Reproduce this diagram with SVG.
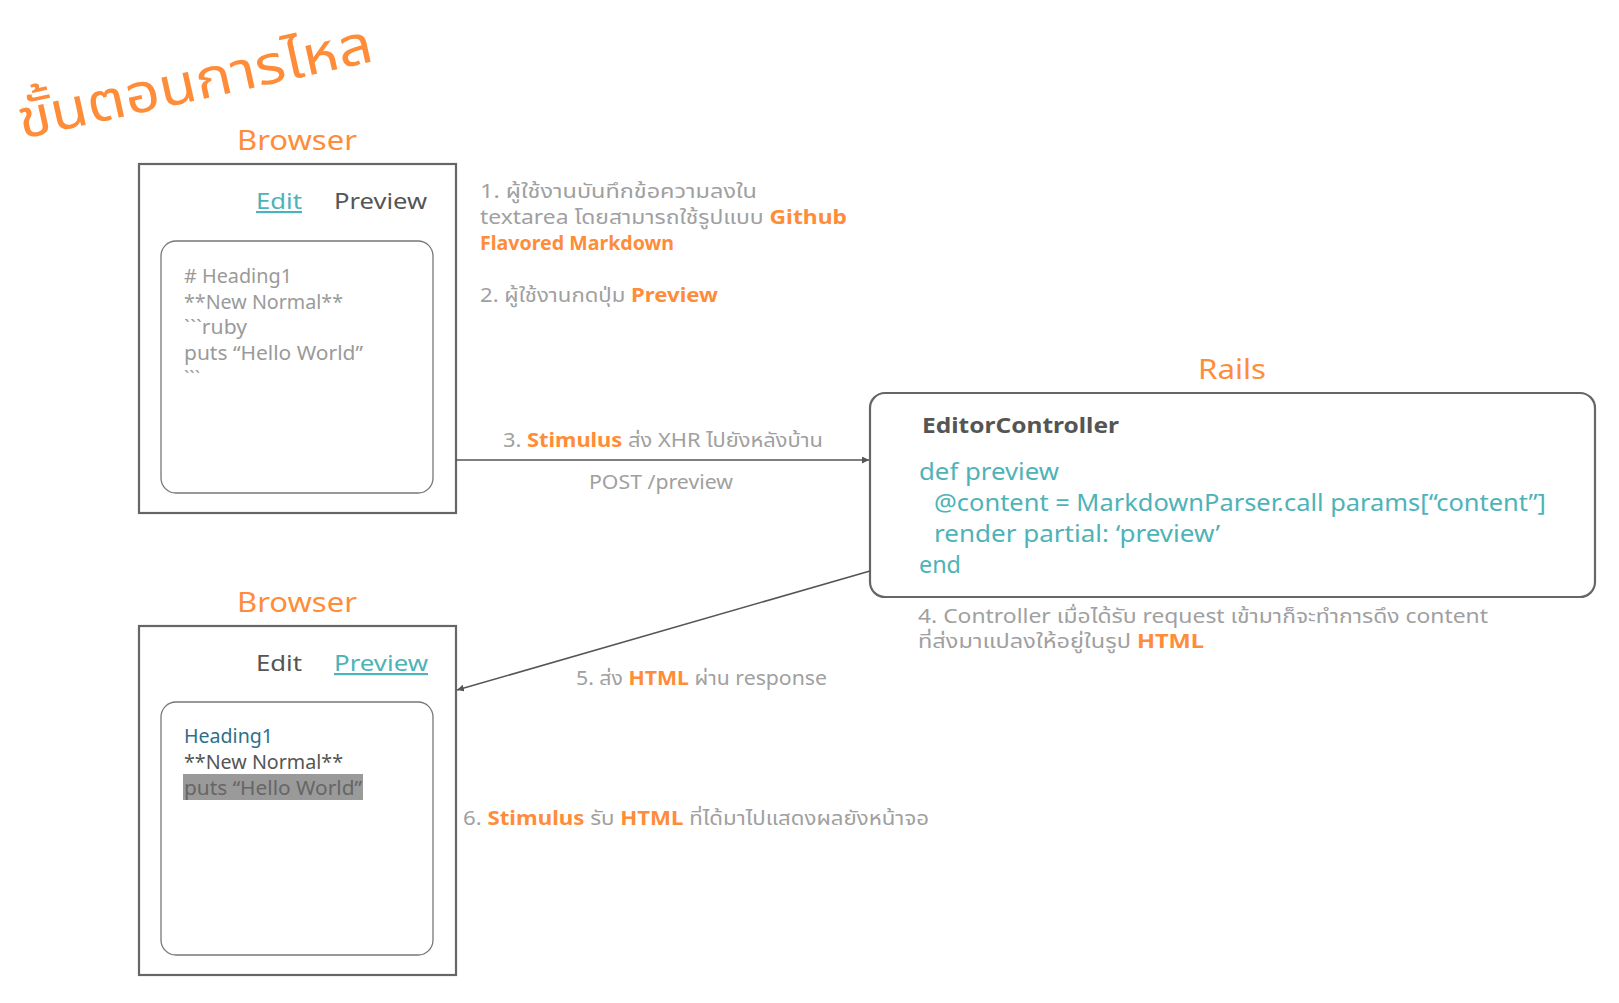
<svg xmlns="http://www.w3.org/2000/svg" width="1619" height="1003" viewBox="0 0 1619 1003">
<style>
text { font-family: "Noto Sans", "Noto Sans Thai", "Loma", "Garuda", "DejaVu Sans", sans-serif; }
.or { fill: #FF8C38; }
.orb { fill: #FF8C38; font-weight: bold; }
.gray { fill: #A0A0A0; font-size: 19px; }
.code { fill: #4DB3B8; font-size: 24px; }
.inner { fill: #9A9A9A; font-size: 19px; }
.dark { fill: #555555; }
.outer { fill: #ffffff; stroke: #666666; stroke-width: 2.2; }
.inbox { fill: #ffffff; stroke: #777777; stroke-width: 1.3; }
.conn { fill: none; stroke: #555555; stroke-width: 1.6; }
</style>
<defs>
<marker id="arr" viewBox="0 0 10 10" refX="10" refY="5" markerWidth="7" markerHeight="7" orient="auto" markerUnits="userSpaceOnUse">
<path d="M0,0 L10,5 L0,10 z" fill="#555555"/>
</marker>
</defs>
<rect width="1619" height="1003" fill="#ffffff"/>

<g id="title">
<text x="22" y="139" transform="rotate(-12.5 22 139)" class="or" font-size="54" textLength="362" lengthAdjust="spacingAndGlyphs">ขั้นตอนการไหล</text>
</g>

<g id="browser-edit">
<text x="297" y="150" class="or" font-size="28" text-anchor="middle" textLength="120" lengthAdjust="spacingAndGlyphs">Browser</text>
<rect x="139" y="164" width="317" height="349" class="outer"/>
<text x="256" y="209" font-size="22" fill="#4DB3B8" text-decoration="underline" textLength="46" lengthAdjust="spacingAndGlyphs">Edit</text>
<text x="334" y="209" font-size="22" class="dark" textLength="93" lengthAdjust="spacingAndGlyphs">Preview</text>
<rect x="161" y="241" width="272" height="252" rx="15" class="inbox"/>
<text x="184" y="283" class="inner" textLength="108" lengthAdjust="spacingAndGlyphs"># Heading1</text>
<text x="184" y="309" class="inner" textLength="159" lengthAdjust="spacingAndGlyphs">**New Normal**</text>
<text x="184" y="334" class="inner" textLength="63" lengthAdjust="spacingAndGlyphs">```ruby</text>
<text x="184" y="360" class="inner" textLength="179" lengthAdjust="spacingAndGlyphs">puts “Hello World”</text>
<text x="184" y="385" class="inner">```</text>
</g>

<g id="steps-1-2">
<text x="480" y="198" class="gray" textLength="277" lengthAdjust="spacingAndGlyphs">1. ผู้ใช้งานบันทึกข้อความลงใน</text>
<text x="480" y="224" class="gray" textLength="367" lengthAdjust="spacingAndGlyphs">textarea โดยสามารถใช้รูปแบบ <tspan class="orb">Github</tspan></text>
<text x="480" y="250" class="gray" textLength="194" lengthAdjust="spacingAndGlyphs"><tspan class="orb">Flavored Markdown</tspan></text>
<text x="480" y="302" class="gray" textLength="238" lengthAdjust="spacingAndGlyphs">2. ผู้ใช้งานกดปุ่ม <tspan class="orb">Preview</tspan></text>
</g>

<g id="rails">
<text x="1232" y="379" class="or" font-size="28" text-anchor="middle" textLength="68" lengthAdjust="spacingAndGlyphs">Rails</text>
<rect x="870" y="393" width="725" height="204" rx="15" class="outer"/>
<text x="922" y="433" font-size="22" font-weight="bold" class="dark" textLength="197" lengthAdjust="spacingAndGlyphs">EditorController</text>
<text x="919" y="480" class="code" textLength="140" lengthAdjust="spacingAndGlyphs">def preview</text>
<text x="934" y="511" class="code" textLength="612" lengthAdjust="spacingAndGlyphs">@content = MarkdownParser.call params[“content”]</text>
<text x="934" y="542" class="code" textLength="286" lengthAdjust="spacingAndGlyphs">render partial: ‘preview’</text>
<text x="919" y="573" class="code" textLength="42" lengthAdjust="spacingAndGlyphs">end</text>
<text x="918" y="623" class="gray" textLength="570" lengthAdjust="spacingAndGlyphs">4. Controller เมื่อได้รับ request เข้ามาก็จะทำการดึง content</text>
<text x="918" y="648" class="gray" textLength="286" lengthAdjust="spacingAndGlyphs">ที่ส่งมาแปลงให้อยู่ในรูป <tspan class="orb">HTML</tspan></text>
</g>

<g id="browser-preview">
<text x="297" y="612" class="or" font-size="28" text-anchor="middle" textLength="120" lengthAdjust="spacingAndGlyphs">Browser</text>
<rect x="139" y="626" width="317" height="349" class="outer"/>
<text x="256" y="671" font-size="22" class="dark" textLength="46" lengthAdjust="spacingAndGlyphs">Edit</text>
<text x="334" y="671" font-size="22" fill="#4DB3B8" text-decoration="underline" textLength="94" lengthAdjust="spacingAndGlyphs">Preview</text>
<rect x="161" y="702" width="272" height="253" rx="15" class="inbox"/>
<text x="184" y="743" font-size="19" fill="#2E6F8C" textLength="89" lengthAdjust="spacingAndGlyphs">Heading1</text>
<text x="184" y="769" font-size="19" class="dark" textLength="159" lengthAdjust="spacingAndGlyphs">**New Normal**</text>
<rect x="183" y="774" width="180" height="26" fill="#9A9A9A"/>
<text x="184" y="795" font-size="19" fill="#666666" textLength="178" lengthAdjust="spacingAndGlyphs">puts “Hello World”</text>
</g>

<g id="connectors">
<line x1="456" y1="460" x2="869" y2="460" class="conn" marker-end="url(#arr)"/>
<line x1="870" y1="571" x2="457" y2="690" class="conn" marker-end="url(#arr)"/>
</g>

<g id="edge-labels">
<text x="503" y="447" class="gray" textLength="320" lengthAdjust="spacingAndGlyphs">3. <tspan class="orb">Stimulus</tspan> ส่ง XHR ไปยังหลังบ้าน</text>
<text x="589" y="489" class="gray" textLength="144" lengthAdjust="spacingAndGlyphs">POST /preview</text>
<text x="576" y="685" class="gray" textLength="251" lengthAdjust="spacingAndGlyphs">5. ส่ง <tspan class="orb">HTML</tspan> ผ่าน response</text>
<text x="463" y="825" class="gray" textLength="466" lengthAdjust="spacingAndGlyphs">6. <tspan class="orb">Stimulus</tspan> รับ <tspan class="orb">HTML</tspan> ที่ได้มาไปแสดงผลยังหน้าจอ</text>
</g>
</svg>
